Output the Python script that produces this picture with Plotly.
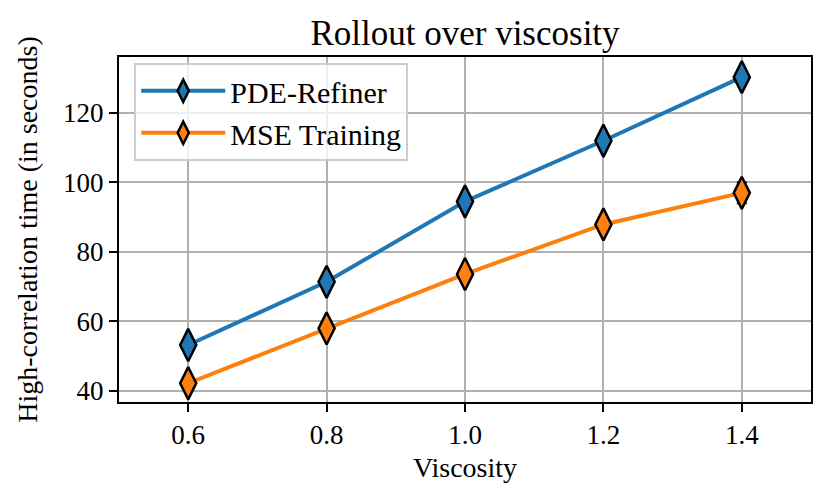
import plotly.graph_objects as go

# Data
viscosity = [0.6, 0.8, 1.0, 1.2, 1.4]
pde_refiner = [53.2, 71.4, 94.5, 112.0, 130.3]
pde_refiner_err = [0.8, 1.0, 1.0, 1.0, 1.3]
mse_training = [42.2, 58.0, 73.6, 87.9, 97.0]
mse_training_err = [1.0, 1.2, 2.0, 1.2, 3.0]

x_ticks = [0.6, 0.8, 1.0, 1.2, 1.4]
x_tick_text = ["0.6", "0.8", "1.0", "1.2", "1.4"]
y_ticks = [40, 60, 80, 100, 120]

FONT = "Liberation Serif"

fig = go.Figure()

for name, vals, errs, color in [
    ("PDE-Refiner", pde_refiner, pde_refiner_err, "#1f77b4"),
    ("MSE Training", mse_training, mse_training_err, "#ff7f0e"),
]:
    fig.add_trace(go.Scatter(
        x=viscosity,
        y=vals,
        mode="lines+markers",
        name=name,
        line=dict(color=color, width=4),
        marker=dict(symbol="diamond-tall", size=23, color=color,
                    line=dict(color="black", width=2.5)),
        error_y=dict(type="data", array=errs, color="black",
                     thickness=2, width=5),
    ))

# the page body adds ~8px offset, so margins are shifted to compensate
fig.update_layout(
    width=830,
    height=500,
    margin=dict(l=111, r=27, t=49, b=106),
    paper_bgcolor="white",
    plot_bgcolor="white",
    font=dict(family=FONT, size=28, color="black"),
    title=dict(text="Rollout over viscosity", x=0.5, xref="paper",
               y=0.95, yref="container", yanchor="middle",
               font=dict(size=35)),
    legend=dict(
        x=0.022, y=0.983, xanchor="left", yanchor="top",
        bgcolor="rgba(255,255,255,0.8)",
        bordercolor="#cccccc", borderwidth=2,
        font=dict(size=30), itemwidth=84,
    ),
)

fig.update_xaxes(
    range=[0.5, 1.5],
    tickvals=x_ticks, ticktext=x_tick_text,
    showgrid=True, gridcolor="#b0b0b0", gridwidth=2,
    showline=True, linecolor="black", linewidth=2, mirror=True,
    ticks="outside", ticklen=8, tickwidth=2, tickcolor="black",
    tickfont=dict(size=27), zeroline=False,
    title=dict(text="Viscosity", font=dict(size=28), standoff=8),
)
fig.update_yaxes(
    range=[36.8, 136.1],
    tickvals=y_ticks,
    showgrid=True, gridcolor="#b0b0b0", gridwidth=2,
    showline=True, linecolor="black", linewidth=2, mirror=True,
    ticks="outside", ticklen=8, tickwidth=2, tickcolor="black",
    tickfont=dict(size=27), zeroline=False,
    title=dict(text="High-correlation time (in seconds)", font=dict(size=28), standoff=17),
)

fig.write_html("out.html")
